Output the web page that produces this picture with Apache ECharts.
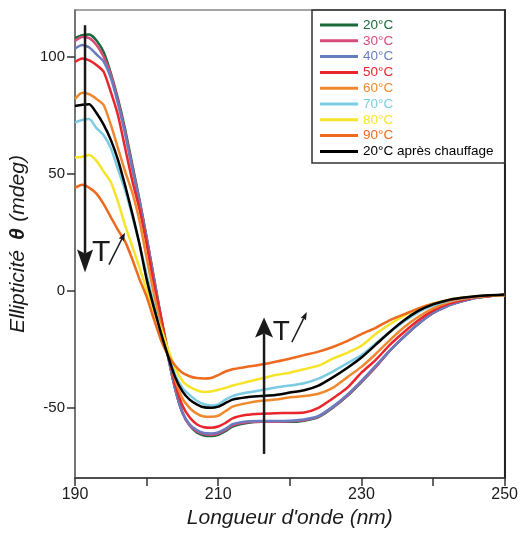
<!DOCTYPE html>
<html><head><meta charset="utf-8">
<script src="https://cdn.jsdelivr.net/npm/echarts@6/dist/echarts.min.js"></script>
<style>html,body{margin:0;padding:0;background:#fff}#c{width:521px;height:535px}</style>
</head><body><div id="c"></div>
<script>
// ---- data (nm, mdeg) ----
const wavelengths = [190,191,192,193,194,195,196,197,198,199,200,201,202,203,204,205,206,207,208,209,210,211,212,214,216,218,220,222,224,226,228,230,232,234,236,238,240,242,244,246,248,250];
const s20 = [108,109.2,109.5,107,102,93,82,69,54,39,23,6,-11,-28,-42,-52,-57.5,-60.5,-61.8,-62,-61.5,-60,-58,-56.5,-56,-56,-56,-55.5,-54,-50,-45,-39,-32.5,-25.5,-19.5,-14,-9.5,-6.5,-4.5,-3,-2.2,-1.8];
const s30 = [106.8,108.5,108,105,100,92.5,81,68,53,38.5,22.5,5.5,-11.5,-28,-42,-52,-57.5,-60,-61.2,-61.5,-61,-59.5,-57.5,-56.2,-56,-56,-55.8,-55.3,-53.8,-49.8,-44.8,-38.8,-32.5,-25.5,-19.5,-14,-9.5,-6.5,-4.5,-3,-2.2,-1.8];
const s40 = [103.5,105,104,101,98,91,80,67,52,38,22,5,-12,-28,-42,-52,-57,-59.5,-60.8,-61,-60.5,-59,-57,-55.8,-55.6,-55.6,-55.5,-55,-53.5,-49.5,-44.5,-38.5,-32,-25.5,-19.5,-14,-9.5,-6.5,-4.5,-3,-2.2,-1.8];
const s50 = [97.8,99.3,98.5,96.5,93.6,85,75,61,47,35,20,3,-11,-26,-40,-49,-54,-57,-58.3,-58.5,-58,-56.5,-54.5,-53,-52.5,-52.3,-52.2,-52,-50,-46,-41.5,-35,-29.5,-23,-17.5,-12.5,-8.5,-5.7,-4,-2.8,-2.2,-1.8];
const s60 = [82,84.6,84,82,79.4,71,61,51,42,30,14,-1,-15,-27,-38,-46,-50,-52.5,-53.7,-53.8,-53.4,-51.5,-49.5,-48,-47,-46.5,-45.5,-45,-44,-41.5,-37,-32.5,-27,-21,-15.5,-11,-7.5,-5,-3.5,-2.6,-2.1,-1.8];
const s70 = [72,73,73.4,69.5,66.5,61,52,43,32,20,7,-6,-17,-27,-36,-41.5,-44.5,-47,-48.5,-49,-48.5,-46.5,-45,-43.5,-42.5,-41.3,-40.5,-39.5,-37.5,-34.5,-31,-27.5,-22.5,-17.5,-13,-9,-6.3,-4.5,-3.3,-2.5,-2,-1.8];
const s80 = [57,57.3,58,55.5,51,46.5,38,28,19,10,0.5,-9,-16,-25,-33,-38.5,-41,-42.5,-43.2,-43,-42.3,-41.5,-40.5,-39,-37.5,-36,-35,-33.5,-32,-29,-26.5,-23.5,-18.5,-14.2,-10.5,-7.5,-5.5,-4,-3,-2.3,-2,-1.8];
const s90 = [44,45.3,44,41.5,37,31.5,26,21,13.5,5,-2.5,-12,-21,-27.5,-32,-35,-36.5,-37.3,-37.5,-37.3,-36,-34.5,-33.5,-32.5,-31.5,-30.3,-29,-27.5,-26,-24,-21.5,-18.5,-15.8,-12.5,-10,-7.5,-5.5,-4.2,-3.2,-2.4,-2,-1.8];
const s20after = [79,79.5,79.7,76,71,64.5,56,45,33,20,5,-7,-18,-28,-37,-43,-46.5,-48.5,-49.8,-50,-49.5,-48,-46.5,-45.5,-45,-44.5,-43.5,-42.5,-40.5,-37,-33,-28.5,-23,-17.5,-12.5,-8.5,-5.8,-4,-3,-2.3,-1.9,-1.6];
const seriesNames = ['20°C','30°C','40°C','50°C','60°C','70°C','80°C','90°C','20°C après chauffage'];
const seriesValues = [s20,s30,s40,s50,s60,s70,s80,s90,s20after];
const xTickLabels = [190,210,230,250];
const yTickLabels = [-50,0,50,100];

// ---- styling ----
const colors = ['#1b6b3a','#d94a7c','#6a7cc0','#e8262c','#f0892e','#7ccbe4','#f5e428','#ee6a1e','#000000'];
const FONT = '"Liberation Sans", Arial, Helvetica, sans-serif';
const INK = '#1a1a1a';

const chart = echarts.init(document.getElementById('c'), null, {renderer:'canvas'});
const series = seriesNames.map((n,i)=>({
  name:n, type:'line', symbol:'none', smooth:0.2,
  data: wavelengths.map((w,k)=>[w, seriesValues[i][k]]),
  lineStyle:{color:colors[i], width:2.5},
  itemStyle:{color:colors[i]},
  color:colors[i], z: 2+i
}));

chart.setOption({
  animation:false,
  grid:{left:75, right:16, top:10, bottom:57, show:true, borderColor:'#888', borderWidth:1.5},
  xAxis:{type:'value', min:190, max:250, interval:10,
    axisLine:{onZero:false, lineStyle:{color:'#333', width:1.5}},
    axisTick:{length:8, lineStyle:{color:'#333', width:1.5}},
    axisLabel:{margin:9, color:INK, fontSize:16, fontFamily:FONT,
      formatter:v=> xTickLabels.indexOf(v)>=0 ? String(v) : ''},
    splitLine:{show:false},
    name:"Longueur d'onde (nm)", nameLocation:'middle', nameGap:28,
    nameTextStyle:{fontStyle:'italic', fontSize:21, color:INK, fontFamily:FONT}},
  yAxis:[{type:'value', min:-80, max:120,
    axisLine:{onZero:false, lineStyle:{color:'#666', width:1.5}},
    axisTick:{length:8, customValues:yTickLabels, lineStyle:{color:'#333', width:1.5}},
    axisLabel:{margin:10, color:INK, fontSize:15, fontFamily:FONT, customValues:yTickLabels},
    splitLine:{show:false},
    name:'{i|Ellipticité}   {b|θ}  {i|(mdeg)}', nameLocation:'middle', nameGap:37,
    nameTextStyle:{fontFamily:FONT, color:INK,
      rich:{i:{fontStyle:'italic', fontSize:21, fontFamily:FONT, color:INK},
            b:{fontWeight:'bold', fontStyle:'italic', fontSize:21, fontFamily:FONT, color:INK}}}},
   {type:'value', min:-80, max:120, position:'right',
    axisLine:{show:true, onZero:false, lineStyle:{color:'#222', width:2}},
    axisTick:{show:false}, axisLabel:{show:false}, splitLine:{show:false}}],
  legend:{orient:'vertical', left:320, top:18, padding:0, itemWidth:38, itemHeight:3, itemGap:1.8, icon:'rect',
    textStyle:{fontSize:13.5, fontFamily:FONT},
    data: seriesNames.map((n,i)=>({name:n, textStyle:{color:colors[i]}}))},
  series: series
});

// ---- annotations (data coordinates) ----
const P = (x,y)=>chart.convertToPixel({xAxisIndex:0, yAxisIndex:0},[x,y]);
function arrow(x0,y0,x1,y1,lw,headLen,headW,notch){
  const a=P(x0,y0), b=P(x1,y1);
  const dx=b[0]-a[0], dy=b[1]-a[1], L=Math.hypot(dx,dy), ux=dx/L, uy=dy/L, nx=-uy, ny=ux;
  const bx=b[0]-ux*headLen, by=b[1]-uy*headLen;
  const cx=b[0]-ux*(headLen-notch), cy=b[1]-uy*(headLen-notch);
  return [
    {type:'line', shape:{x1:a[0],y1:a[1],x2:cx,y2:cy}, style:{stroke:INK, lineWidth:lw}, z:100},
    {type:'polygon', shape:{points:[[b[0],b[1]],[bx+nx*headW/2,by+ny*headW/2],[cx,cy],[bx-nx*headW/2,by-ny*headW/2]]}, style:{fill:INK}, z:100}
  ];
}
function tText(x,y,size){
  const p=P(x,y);
  return {type:'text', x:p[0], y:p[1], style:{text:'T', font:size+'px '+FONT, fill:INK, align:'left', verticalAlign:'middle'}, z:100};
}
const lg = {type:'rect', shape:{x:312, y:10, width:193, height:153}, style:{fill:'none', stroke:'#333', lineWidth:1.5}, z:50};
chart.setOption({graphic:[
  ...arrow(191.4,113.5,191.4,7.8,2.5,23,16,4),
  ...arrow(216.4,-69.7,216.4,-11.4,2.5,20,18,4),
  tText(192.37,16.1,30),
  tText(217.63,-17.8,28),
  ...arrow(194.74,11.2,196.98,24.8,1.5,8,6,1),
  ...arrow(220.28,-22.0,222.37,-9.1,1.5,8,6,1),
  lg
]});
</script></body></html>
